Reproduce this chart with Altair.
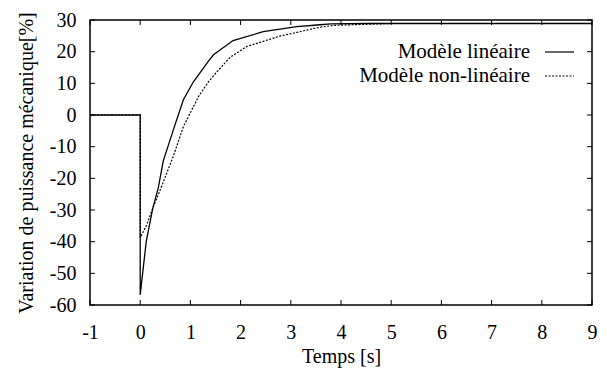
import altair as alt
import pandas as pd

# --- data ---
t_lin = [-1, 0, 0, 0.12, 0.25, 0.36, 0.46, 0.66, 0.86, 1.06, 1.36, 1.46, 1.85, 2.45, 3.12, 3.58, 3.8, 4.5, 9]
v_lin = [0, 0, -56.8, -40, -29.5, -23, -14.5, -4.7, 4.8, 10.5, 17, 19, 23.5, 26.3, 27.9, 28.5, 28.8, 28.9, 28.9]

t_nl = [-1, 0, 0, 0.12, 0.25, 0.44, 0.66, 0.86, 1.16, 1.36, 1.52, 1.79, 2.12, 2.78, 3.32, 3.58, 3.85, 4.4, 5, 9]
v_nl = [0, 0, -38.8, -35, -29.5, -22, -13, -3.7, 5.8, 10.5, 13.5, 18.2, 21.6, 24.9, 26.8, 27.7, 28.3, 28.6, 28.9, 28.9]

series_names = ["Modèle linéaire", "Modèle non-linéaire"]
x_ticks = list(range(-1, 10))
y_ticks = list(range(-60, 31, 10))

W, H = 502, 285
FONT = "Liberation Serif"
FS = 20
FS_LEG = 21

df = pd.concat([
    pd.DataFrame({"t": t_lin, "v": v_lin, "s": series_names[0], "i": range(len(t_lin))}),
    pd.DataFrame({"t": t_nl, "v": v_nl, "s": series_names[1], "i": range(len(t_nl))}),
])

xs = alt.Scale(domain=[-1, 9], nice=False, zero=False)
ys = alt.Scale(domain=[-60, 30], nice=False, zero=False)

x_axis = alt.Axis(values=x_ticks, title="Temps [s]", ticks=False, domain=False, grid=False,
                  labelFont=FONT, labelFontSize=FS, labelColor="black", labelPadding=17,
                  titleFont=FONT, titleFontSize=FS, titleFontWeight="normal", titleColor="black",
                  titlePadding=4, labelFlush=False, labelOverlap=False,
                  labelExpr="'' + datum.value")
y_axis = alt.Axis(values=y_ticks, title="Variation de puissance mécanique[%]", ticks=False, domain=False,
                  grid=False, labelFont=FONT, labelFontSize=FS, labelColor="black", labelPadding=14,
                  titleFont=FONT, titleFontSize=FS, titleFontWeight="normal", titleColor="black",
                  titlePadding=13, labelFlush=False, labelOverlap=False,
                  labelExpr="'' + datum.value")

X = lambda f: alt.X(f, scale=xs, axis=x_axis)
Y = lambda f: alt.Y(f, scale=ys, axis=y_axis)

base = alt.Chart(df)

lin = base.transform_filter(alt.datum.s == series_names[0]).mark_line(
    color="black", strokeWidth=1.3).encode(x=X("t:Q"), y=Y("v:Q"), order="i:Q")

nl = base.transform_filter(alt.datum.s == series_names[1]).mark_line(
    color="black", strokeWidth=1.2, strokeDash=[2, 1.5]).encode(x=X("t:Q"), y=Y("v:Q"), order="i:Q")

xt = pd.DataFrame({"t": x_ticks})
yt = pd.DataFrame({"v": y_ticks})
TL = 5
tick_bottom = alt.Chart(xt).mark_rule(color="black", strokeWidth=1).encode(
    x=X("t:Q"), y=alt.value(H), y2=alt.value(H - TL))
tick_top = alt.Chart(xt).mark_rule(color="black", strokeWidth=1).encode(
    x=X("t:Q"), y=alt.value(0), y2=alt.value(TL))
tick_left = alt.Chart(yt).mark_rule(color="black", strokeWidth=1).encode(
    y=Y("v:Q"), x=alt.value(0), x2=alt.value(TL))
tick_right = alt.Chart(yt).mark_rule(color="black", strokeWidth=1).encode(
    y=Y("v:Q"), x=alt.value(W), x2=alt.value(W - TL))

# legend (text on the left, line sample on the right)
leg_y = [32, 56]
leg_text = []
leg_line = []
for k, name in enumerate(series_names):
    d = pd.DataFrame({"label": [name]})
    leg_text.append(alt.Chart(d).mark_text(align="right", baseline="middle", font=FONT,
                                           fontSize=FS_LEG, color="black").encode(
        text="label:N", x=alt.value(440), y=alt.value(leg_y[k])))
    kw = {"strokeDash": [2, 1.5]} if k == 1 else {}
    leg_line.append(alt.Chart(d).mark_rule(color="black", strokeWidth=1.2, **kw).encode(
        x=alt.value(455), x2=alt.value(484), y=alt.value(leg_y[k])))

chart = alt.layer(lin, nl, tick_bottom, tick_top, tick_left, tick_right, *leg_text, *leg_line).properties(
    width=W, height=H,
    autosize=alt.AutoSizeParams(type="none"),
    padding={"left": 90, "top": 20, "right": 15, "bottom": 78},
    background="white",
).configure(font=FONT).configure_axis(
    labelFont=FONT, titleFont=FONT, labelFontSize=FS, titleFontSize=FS
).configure_view(stroke="black", strokeWidth=1.5)

chart.save("out.html", embed_options={"renderer": "svg", "actions": False})
